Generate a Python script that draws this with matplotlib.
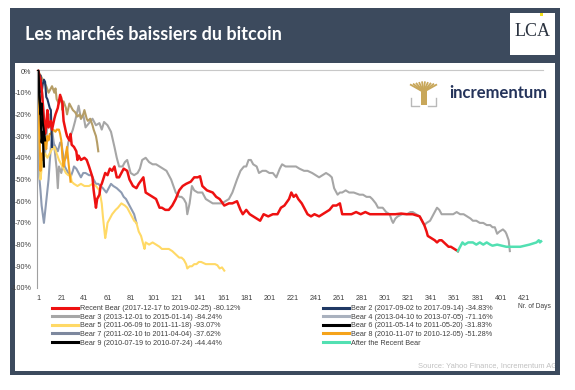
import matplotlib
matplotlib.use("Agg")
import matplotlib.pyplot as plt
from matplotlib.patches import Rectangle
from matplotlib.lines import Line2D

# ---------------- data (days since peak, drawdown in %) ----------------
recent_days = [1, 3, 4, 5, 6, 7, 8, 9, 10, 12, 13, 15, 16, 18, 20, 22, 23, 25, 26, 28, 29, 30, 32, 34,
               35, 36, 38, 41, 43, 45, 48, 49, 51, 52, 54, 55, 56, 59, 61, 63, 65, 67, 69, 71, 74, 75,
               78, 80, 83, 86, 88, 92, 94, 97, 100, 103, 106, 108, 111, 114, 117, 120, 123, 126, 129,
               133, 136, 139, 141, 143, 147, 152, 155, 158, 162, 166, 169, 173, 176, 178, 181, 184, 187,
               190, 193, 196, 200, 204, 208, 211, 214, 218, 220, 222, 224, 226, 229, 232, 234, 237, 240,
               244, 247, 250, 253, 256, 259, 262, 264, 268, 272, 276, 280, 284, 288, 292, 296, 300, 305,
               310, 315, 320, 325, 331, 333, 335, 337, 338, 341, 344, 346, 348, 350, 352, 354, 356, 358,
               361, 364]
recent_vals = [0, -4, -8, -15, -22, -29, -25, -18, -26, -23, -27, -22, -20, -17, -11, -15, -23, -28, -30,
               -32, -29, -34, -35, -37, -41, -39, -41, -40, -41, -44, -49, -55, -63, -59, -57, -53, -52,
               -47, -48, -45, -46, -44, -49, -49, -46, -45, -46, -50, -53, -54, -52, -49, -56, -57, -58,
               -59, -63, -63, -64, -64, -62, -59, -55, -53, -52, -51, -49, -49, -48.5, -53, -55, -56,
               -58, -59, -62, -61, -61, -60, -64, -66, -64, -66, -67, -68, -69, -66, -67, -66, -66, -63,
               -62, -59, -56, -58, -57, -59, -61, -64, -66, -67, -66, -67, -66, -65, -64, -62, -62, -61,
               -66, -66, -66, -65, -66, -65, -66, -66, -66, -66, -66, -66, -65.7, -66, -66, -67, -69,
               -71, -74, -76, -77, -78, -79, -78, -78, -79, -80, -81, -81, -82, -83]

bear2_days = [1, 2, 3, 4, 5, 6, 7, 8, 9, 10, 11, 12, 13]
bear2_vals = [0, -3, -2, -10, -6, -4, -5, -12, -13, -15, -17, -18, -35]

bear3_days = [1, 3, 5, 7, 9, 11, 13, 15, 17, 18, 19, 21, 23, 25, 27, 29, 31, 33, 36, 38, 40, 42, 45, 48,
              51, 54, 56, 58, 61, 64, 67, 69, 71, 74, 76, 78, 81, 84, 87, 89, 91, 94, 97, 100, 103, 106,
              109, 112, 114, 116, 118, 120, 123, 125, 127, 129, 130, 132, 134, 136, 139, 143, 146, 149,
              152, 156, 160, 163, 166, 169, 171, 173, 176, 179, 181, 183, 185, 187, 190, 192, 195, 198,
              201, 204, 207, 210, 212, 215, 218, 221, 224, 227, 231, 234, 238, 241, 244, 247, 250, 253,
              255, 257, 260, 262, 264, 267, 270, 274, 279, 282, 285, 288, 290, 293, 295, 299, 302, 305,
              307, 308, 310, 312, 316, 320, 323, 325, 328, 331, 333, 335, 337, 340, 342, 344, 346, 348,
              350, 354, 357, 360, 363, 366, 369, 372, 375, 377, 380, 383, 386, 389, 392, 394, 396, 398,
              400, 403, 405, 406, 408, 409]
bear3_vals = [0, -4, -12, -38, -25, -20, -27, -35, -45, -54, -44, -47, -42, -40, -33, -30, -27, -23,
              -16, -22, -20, -26, -24, -22, -25, -24, -27, -23.5, -25, -28, -35, -40, -44, -44, -42,
              -41, -47, -48, -47, -45, -41, -40, -42, -43, -43, -44, -45, -46, -48, -50, -53, -56, -58,
              -58, -59, -61, -66, -61, -53, -55, -56, -56, -59, -60, -61, -61, -61, -60, -59, -56, -53,
              -50, -46, -44, -44, -41, -41, -43, -44, -47, -46, -46, -47, -47, -49, -45, -43, -44, -44,
              -44, -44, -45, -46, -46, -47, -48, -49, -48, -47, -48, -49, -54, -57, -56, -56, -55, -56,
              -56, -57, -57, -58, -58, -59, -61, -63, -63, -65, -66, -69, -70, -68, -67, -66, -66, -65,
              -65, -66, -67, -69, -71, -70, -69, -67, -65, -63, -64, -66, -66, -66, -66, -65, -66, -66,
              -67, -68, -69, -69, -70, -70, -71, -71, -72, -72, -75, -74, -73, -74, -75, -78, -83]

bear4_days = [1, 2, 3, 4, 6, 7, 8, 9, 10, 11, 12, 13, 14, 16, 18, 20, 21, 23, 24, 26, 28, 29, 31, 32,
              34, 35, 37, 38, 40, 42, 45, 47, 49, 51, 53, 55, 57, 60, 62, 64, 66, 69, 71, 73, 75, 77,
              79, 81, 83, 84, 85, 86]
bear4_vals = [0, -49, -55, -62, -70, -65, -60, -55, -50, -42, -35, -30, -33, -35, -37, -33, -33, -40,
              -44, -46, -48, -49, -46, -44, -45, -46, -48, -49, -47, -47, -48, -48, -50, -52, -52, -53,
              -54, -56, -54, -52, -53, -54, -55, -56, -58, -59, -61, -63, -65, -66, -68, -70]

bear5_days = [1, 2, 3, 4, 5, 7, 9, 11, 13, 15, 17, 19, 21, 23, 25, 27, 29, 30, 32, 35, 38, 41, 45, 48,
              51, 54, 56, 57, 58, 59, 60, 61, 63, 65, 68, 70, 73, 76, 78, 81, 84, 86, 88, 90, 92, 93,
              94, 97, 100, 103, 106, 108, 111, 114, 117, 119, 121, 123, 125, 127, 129, 130, 132, 134,
              136, 138, 140, 142, 144, 146, 149, 152, 154, 156, 158, 160, 162]
bear5_vals = [0, -30, -50, -45, -42, -38, -40, -38, -36, -35, -38, -41, -43, -45, -47, -48, -48, -51,
              -52, -53, -52, -53, -53, -52, -53, -55, -61, -67, -72, -77, -74, -70, -68, -66, -64, -63,
              -61, -62, -63, -66, -69, -70, -74, -76, -80, -82, -79, -80, -79, -80, -81, -82, -82, -82,
              -83, -84, -85, -86, -86, -87, -89, -91, -90, -90, -89, -89, -88, -88, -88.5, -89, -89,
              -89, -89, -89.5, -91, -90.5, -92]

bear6_days = [1, 2, 3, 4, 5, 6, 7]
bear6_vals = [0, -12, -20, -15, -24, -28, -32]

bear7_days = [1, 2, 4, 6, 8, 10, 12, 13, 15, 16, 17, 19, 21, 22, 23, 25, 26, 28, 30, 31, 33, 35, 37,
              38, 40, 41, 43, 44, 46, 48, 49, 51, 52, 53]
bear7_vals = [0, -1, -3, -5, -7, -10, -8, -7, -10, -8, -13, -15, -12, -18, -14, -17, -20, -15, -17,
              -18, -19, -21, -20, -22, -20, -18, -22, -23, -22, -25, -27, -30, -33, -37]

bear8_days = [1, 2, 3, 4, 5, 6, 7, 8, 9, 10, 11, 12, 13, 14, 16, 17, 18, 19, 20, 21, 22, 23, 24, 25,
              26, 27, 28, 29]
bear8_vals = [0, -26, -46, -38, -41, -30, -33, -36, -30, -32, -29, -29, -28, -27, -28, -27, -27, -27,
              -29, -32, -40, -44, -41, -38, -35, -41, -46, -51]

bear9_days = [1, 2, 3, 4, 5, 6]
bear9_vals = [0, -10, -18, -33, -28, -44]

after_days = [364, 366, 368, 370, 373, 377, 380, 383, 386, 389, 392, 394, 398, 402, 406, 409, 413,
              418, 422, 426, 429, 432, 434, 435, 436]
after_vals = [-83, -81, -79, -80, -79, -79, -80, -79, -80, -79, -80, -80.5, -80, -80.5, -81, -81, -81,
              -81, -80.5, -80, -79.5, -79, -78, -79, -78.5]

legend_labels = [
    "Recent Bear (2017-12-17 to 2019-02-25) -80.12%",
    "Bear 2 (2017-09-02 to 2017-09-14) -34.83%",
    "Bear 3 (2013-12-01 to 2015-01-14) -84.24%",
    "Bear 4 (2013-04-10 to 2013-07-05) -71.16%",
    "Bear 5 (2011-06-09 to 2011-11-18) -93.07%",
    "Bear 6 (2011-05-14 to 2011-05-20) -31.83%",
    "Bear 7 (2011-02-10 to 2011-04-04) -37.62%",
    "Bear 8 (2010-11-07 to 2010-12-05) -51.28%",
    "Bear 9 (2010-07-19 to 2010-07-24) -44.44%",
    "After the Recent Bear",
]
x_ticks = list(range(1, 422, 20))
y_ticks = [0, -10, -20, -30, -40, -50, -60, -70, -80, -90, -100]

# ---------------- figure ----------------
W, H = 575, 390
fig = plt.figure(figsize=(W / 100, H / 100), dpi=100)
fig.patch.set_facecolor("white")
FONT = "Liberation Sans"

bg = fig.add_axes([0, 0, 1, 1], zorder=0)
bg.set_xlim(0, W); bg.set_ylim(H, 0); bg.axis("off")
frame_c = "#3c4a5d"
bg.add_patch(Rectangle((10, 8), 550, 367, color=frame_c, lw=0))
bg.add_patch(Rectangle((15, 63), 540, 308, color="white", lw=0))
bg.add_patch(Rectangle((510, 13), 46, 42, color="white", lw=0))
bg.plot([40, 543], [69.5, 69.5], color="#c8c8c8", lw=0.8)
bg.text(25, 34, "Les marchés baissiers du bitcoin", color="white", fontsize=13,
        fontweight="bold", family="Lato", va="center", ha="left")
bg.text(533, 31, "LCA", color="#2b3340", fontsize=13, family="Liberation Serif",
        va="center", ha="center")
bg.add_patch(Rectangle((540, 12.5), 2.5, 3.5, color="#f2e01a", lw=0))

# incrementum logo
gold = "#c8a75a"
tx, ty = 423.5, 92
for ex in [410, 413, 416, 419, 422, 425, 428, 431, 434, 437]:
    bg.plot([tx, ex], [ty, 81 + abs(ex - 423.5) * 0.25], color=gold, lw=1.3, solid_capstyle="butt")
bg.add_patch(Rectangle((420.5, 91), 6, 14, color=gold, lw=0))
bg.plot([411, 411, 419], [98, 106, 106], color="#b9b9b9", lw=1.0)
bg.plot([428, 436, 436], [106, 106, 98], color="#b9b9b9", lw=1.0)
bg.text(449, 93.5, "incrementum", color="#24335a", fontsize=12, fontweight="bold",
        family="Lato", va="center", ha="left")

bg.text(557, 366, "Source: Yahoo Finance, Incrementum AG", color="#c0c0c0", fontsize=5.4,
        family=FONT, ha="right", va="center")
# right border drawn over the clipped source text
bg.add_patch(Rectangle((555, 8), 5, 367, color=frame_c, lw=0, zorder=5))

# ---------------- chart ----------------
ax = fig.add_axes([37 / W, (H - 288) / H, (548 - 37) / W, (288 - 71) / H], zorder=2)
ax.patch.set_alpha(0)

series = [
    (bear3_days, bear3_vals, "#a6a6a6", 1.5),
    (bear4_days, bear4_vals, "#8e9bb2", 1.5),
    (bear5_days, bear5_vals, "#ffd966", 1.5),
    (bear7_days, bear7_vals, "#b59d66", 1.5),
    (bear8_days, bear8_vals, "#f5a31a", 1.5),
    (bear2_days, bear2_vals, "#1f3864", 1.5),
    (recent_days, recent_vals, "#ee1111", 1.8),
    (after_days, after_vals, "#52e0b2", 1.8),
    (bear6_days, bear6_vals, "#000000", 1.6),
    (bear9_days, bear9_vals, "#000000", 1.6),
]
for d, v, c, lw in series:
    ax.plot(d, [p / 100 for p in v], color=c, lw=lw, clip_on=False, solid_joinstyle="round")

ax.set_xlim(0, 442)
ax.set_ylim(-1.0, 0.0)
ax.set_yticks([t / 100 for t in y_ticks])
ax.set_yticklabels([f"{t}%" for t in y_ticks])
ax.set_xticks(x_ticks)
ax.set_xticklabels([str(t) for t in x_ticks])
ax.tick_params(axis="both", length=0, labelsize=5.2, colors="#404040", pad=4)
ax.tick_params(axis="x", pad=5)
for lab in ax.get_xticklabels() + ax.get_yticklabels():
    lab.set_family(FONT)
for s in ["top", "right", "bottom"]:
    ax.spines[s].set_visible(False)
ax.spines["left"].set_color("#a0a0a0")
ax.spines["left"].set_linewidth(0.8)
bg.text(534, 307, "Nr. of Days", fontsize=4.8, color="#404040", family=FONT, ha="center", va="center")

# ---------------- legend ----------------
leg_colors = ["#ee1111", "#1f3864", "#a6a6a6", "#a9b1be", "#ffd966",
              "#000000", "#7d889e", "#f5a31a", "#000000", "#52e0b2"]
handles = [Line2D([0], [0], color=c, lw=2.2) for c in leg_colors]
left_idx = [0, 2, 4, 6, 8]
right_idx = [1, 3, 5, 7, 9]
for idx, x0 in [(left_idx, 52), (right_idx, 323)]:
    lg = fig.legend([handles[i] for i in idx], [legend_labels[i] for i in idx],
                    loc="upper left", bbox_to_anchor=(x0 / W, (H - 305) / H),
                    frameon=False, borderpad=0, borderaxespad=0, handlelength=3.6,
                    handletextpad=0.3, labelspacing=0.22,
                    prop={"family": FONT, "size": 5.2})
    for t in lg.get_texts():
        t.set_color("#404040")

fig.savefig("out.png", dpi=100, facecolor="white")
